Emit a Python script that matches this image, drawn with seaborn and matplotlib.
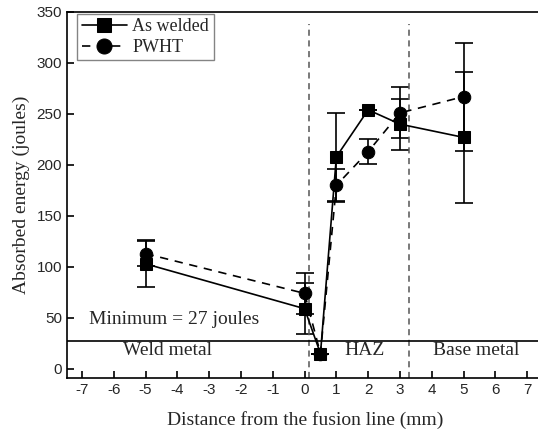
import numpy as np
import pandas as pd
import matplotlib
matplotlib.use("Agg")
import matplotlib.pyplot as plt
import seaborn as sns

# === Data ===
distance = [-5, 0, 0.5, 1, 2, 3, 5]
as_welded = [103, 59, 15, 208, 254, 240, 227]
as_welded_err = [23, 25, 0, 43, 0, 25, 64]
pwht = [113, 74, 15, 180, 213, 251, 267]
pwht_err = [12, 20, 0, 16, 12, 25, 53]

zone_edges = [0.13, 3.28]
min_energy = 27
zone_labels = ["Weld metal", "HAZ", "Base metal"]
zone_label_x = [-4.3, 1.9, 5.4]

df = pd.DataFrame({
    "distance": distance * 2,
    "energy": as_welded + pwht,
    "condition": ["As welded"] * len(distance) + ["PWHT"] * len(distance),
})

sns.set_style("ticks")
plt.rcParams["font.family"] = ["Liberation Sans", "DejaVu Sans"]
plt.rcParams["axes.unicode_minus"] = False
serif = ["Liberation Serif", "DejaVu Serif"]

fig = plt.figure(figsize=(5.38, 4.36), dpi=100)
ax = fig.add_axes([0.1245, 0.133, 0.885, 0.8395])

# error bars first so markers sit on top
ax.errorbar(distance, as_welded, yerr=as_welded_err, fmt="none", ecolor="black",
            elinewidth=1.2, capsize=6.5, capthick=1.2, zorder=2)
ax.errorbar(distance, pwht, yerr=pwht_err, fmt="none", ecolor="black",
            elinewidth=1.2, capsize=6.5, capthick=1.2, zorder=2)

sns.lineplot(data=df, x="distance", y="energy", hue="condition", style="condition",
             palette=["black", "black"], markers={"As welded": "s", "PWHT": "o"},
             dashes={"As welded": "", "PWHT": (5, 4)}, markersize=8,
             markeredgecolor="black", linewidth=1.2, sort=False, ax=ax, zorder=3)
# circles look a touch bigger than squares in the original
for ln in ax.lines:
    if ln.get_marker() == "o":
        ln.set_markersize(9)

# zone boundaries and minimum requirement
for xe in zone_edges:
    ax.axvline(xe, ymin=0, ymax=0.968, color="#555555", linestyle=(0, (4, 3)), linewidth=1.1)
ax.axhline(min_energy, color="black", linewidth=1.2)

ax.text(-4.1, 48, "Minimum = 27 joules", family=serif, fontsize=14,
        ha="center", va="center")
for lbl, xl in zip(zone_labels, zone_label_x):
    ax.text(xl, 18, lbl, family=serif, fontsize=14, ha="center", va="center")

ax.set_xlim(-7.47, 7.5)
ax.set_ylim(-9, 350)
ax.set_xticks(range(-7, 8))
ax.set_yticks(range(0, 351, 50))
ax.tick_params(direction="in", length=5, width=1.2, labelsize=11, color="black")
ax.set_xlabel("Distance from the fusion line (mm)", family=serif, fontsize=14, labelpad=10)
ax.set_ylabel("Absorbed energy (joules)", family=serif, fontsize=14, labelpad=5)
for sp in ax.spines.values():
    sp.set_linewidth(1.2)
    sp.set_color("black")

handles, labels = ax.get_legend_handles_labels()
leg = ax.legend(handles, labels, loc="upper left", bbox_to_anchor=(0.018, 1.0),
                prop={"family": serif, "size": 13}, frameon=True, fancybox=False,
                borderpad=0.25, handlelength=2.5, handletextpad=0.3, labelspacing=0.2,
                borderaxespad=0.1, markerscale=1.2)
leg.get_frame().set_edgecolor("#666666")
leg.get_frame().set_linewidth(1.0)

fig.savefig("out.png", dpi=100)
